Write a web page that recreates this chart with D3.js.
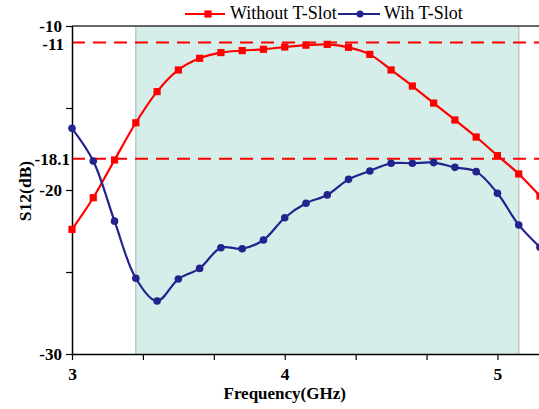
<!DOCTYPE html>
<html><head><meta charset="utf-8">
<script src="https://cdn.jsdelivr.net/npm/d3@7"></script>
<style>body{margin:0;background:#fff}svg{display:block}</style>
</head><body>
<script>
const freq = [3.0,3.1,3.2,3.3,3.4,3.5,3.6,3.7,3.8,3.9,4.0,4.1,4.2,4.3,4.4,4.5,4.6,4.7,4.8,4.9,5.0,5.1,5.2];
const withoutSlot = [-22.4,-20.47,-18.17,-15.9,-14.0,-12.68,-11.97,-11.62,-11.5,-11.42,-11.28,-11.17,-11.12,-11.3,-11.73,-12.68,-13.66,-14.7,-15.73,-16.77,-17.9,-19.02,-20.37];
const withSlot = [-16.24,-18.23,-21.9,-25.38,-26.77,-25.43,-24.78,-23.52,-23.58,-23.05,-21.69,-20.81,-20.3,-19.35,-18.84,-18.37,-18.37,-18.33,-18.62,-18.88,-20.2,-22.13,-23.49];
const yTicks = [-10,-15,-20,-25,-30];
const yTickLabels = ["-10","","-20","","-30"];
const refLevels = [-11,-18.1];
const refLabels = ["-11","-18.1"];
const xTicks = [3,10/3,11/3,4,13/3,14/3,5];
const xTickLabels = ["3","","","4","","","5"];
const band = [3.3,5.1];
const seriesNames = ["Without T-Slot","Wih T-Slot"];

const W=539,H=409;
const svg=d3.select("body").append("svg").attr("width",W).attr("height",H);
const x=d3.scaleLinear().domain([3,5.2]).range([72,540]);
const y=d3.scaleLinear().domain([-30,-10]).range([354,26]);
const font="'Liberation Serif','Times New Roman',serif";

// band
svg.append("rect").attr("x",x(band[0])).attr("y",y(-10)).attr("width",x(band[1])-x(band[0])).attr("height",y(-30)-y(-10)).attr("fill","#d5eeea");
svg.append("line").attr("x1",x(band[0])).attr("x2",x(band[0])).attr("y1",y(-10)).attr("y2",y(-30)).attr("stroke","#b5ccc8").attr("stroke-width",1.5);
svg.append("line").attr("x1",x(band[1])).attr("x2",x(band[1])).attr("y1",y(-10)).attr("y2",y(-30)).attr("stroke","#c4c4c4").attr("stroke-width",1.5);

// top border
svg.append("line").attr("x1",72).attr("x2",W).attr("y1",y(-10)).attr("y2",y(-10)).attr("stroke","#333").attr("stroke-width",1.5);

// ref dashed lines
refLevels.forEach((v,i)=>{
  svg.append("line").attr("x1",72).attr("x2",W).attr("y1",y(v)).attr("y2",y(v)).attr("stroke","#ff0000").attr("stroke-width",2).attr("stroke-dasharray","13,8");
});

// axes
const yAxis=d3.axisLeft(y).tickValues(yTicks).tickSize(6).tickFormat((d,i)=>yTickLabels[i]);
const gy=svg.append("g").attr("transform","translate(72,0)").call(yAxis);
const xAxis=d3.axisBottom(x).tickValues(xTicks).tickSize(6).tickFormat((d,i)=>xTickLabels[i]);
const gx=svg.append("g").attr("transform","translate(0,354)").call(xAxis);
[gx,gy].forEach(g=>{
  g.select(".domain").attr("stroke","#000").attr("stroke-width",1.5);
  g.selectAll(".tick line").attr("stroke","#000").attr("stroke-width",1.2);
  g.selectAll("text").attr("font-family",font).attr("font-weight","bold").attr("font-size","17.5px").attr("fill","#000");
});
gy.selectAll("text").attr("font-size","17px");
gx.select(".domain").attr("d","M72,0.5H"+W);
gy.select(".domain").attr("d","M0.5,"+y(-10)+"V"+y(-30));
gy.selectAll("text").attr("x",-10);
gx.selectAll("text").attr("dy","0.97em");

refLevels.forEach((v,i)=>{
  svg.append("text").attr("x", i===0?64:70).attr("y",y(v)+(i===0?2:0)).attr("dy","0.35em").attr("text-anchor","end")
    .attr("font-family",font).attr("font-weight","bold").attr("font-size","17px").text(refLabels[i]);
});

// axis titles
svg.append("text").attr("x",x(4)).attr("y",399).attr("text-anchor","middle").attr("font-family",font).attr("font-weight","bold").attr("font-size","17px").text("Frequency(GHz)");
svg.append("text").attr("transform","translate(31,191) rotate(-90)").attr("text-anchor","middle").attr("font-family",font).attr("font-weight","bold").attr("font-size","17.5px").text("S12(dB)");

// series
const line=d3.line().x((d,i)=>x(freq[i])).y(d=>y(d)).curve(d3.curveCatmullRom.alpha(0.5));
svg.append("path").attr("d",line(withoutSlot)).attr("fill","none").attr("stroke","#ff0000").attr("stroke-width",2.2);
svg.append("path").attr("d",line(withSlot)).attr("fill","none").attr("stroke","#23238e").attr("stroke-width",2.2);
svg.selectAll(".sq").data(withoutSlot).enter().append("rect").attr("x",(d,i)=>x(freq[i])-3.6).attr("y",d=>y(d)-3.6).attr("width",7.2).attr("height",7.2).attr("fill","#ff0000");
svg.selectAll(".ci").data(withSlot).enter().append("circle").attr("cx",(d,i)=>x(freq[i])).attr("cy",d=>y(d)).attr("r",3.8).attr("fill","#23238e");

// legend
const lg=svg.append("g");
lg.append("line").attr("x1",185).attr("x2",225).attr("y1",14).attr("y2",14).attr("stroke","#ff0000").attr("stroke-width",2.2);
lg.append("rect").attr("x",208-3.6).attr("y",14-3.6).attr("width",7.2).attr("height",7.2).attr("fill","#ff0000");
lg.append("text").attr("x",230).attr("y",19).attr("font-family",font).attr("font-size","18px").text(seriesNames[0]);
lg.append("line").attr("x1",338).attr("x2",380).attr("y1",14).attr("y2",14).attr("stroke","#23238e").attr("stroke-width",2.2);
lg.append("circle").attr("cx",360).attr("cy",14).attr("r",3.5).attr("fill","#23238e");
lg.append("text").attr("x",384).attr("y",19).attr("font-family",font).attr("font-size","18px").text(seriesNames[1]);
</script>
</body></html>
